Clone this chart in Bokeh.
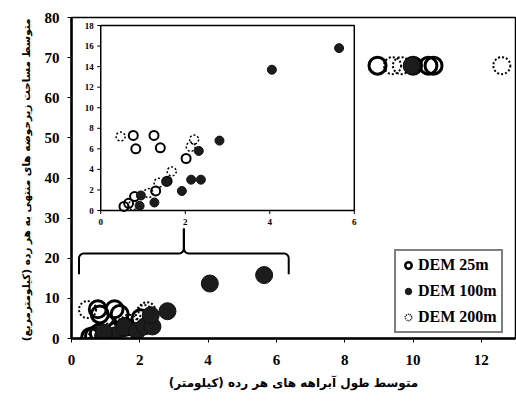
import numpy as np
from bokeh.plotting import figure
from bokeh.models import Range1d, Legend, LegendItem, FixedTicker
from bokeh.embed import file_html
from bokeh.resources import INLINE
from bokeh.core.properties import value

# ---------------- data ----------------
dem25_x = [0.55, 0.66, 0.80, 1.30, 1.57, 2.02, 0.83, 1.41, 0.77, 1.26, 8.96, 10.0, 10.45, 10.6]
dem25_y = [0.4, 0.7, 1.36, 1.9, 2.85, 5.06, 6.0, 6.1, 7.3, 7.3, 68, 68, 68, 68]
dem100_x = [0.92, 1.27, 0.95, 1.55, 1.92, 2.14, 2.37, 2.32, 2.81, 4.05, 5.64, 9.96]
dem100_y = [0.45, 0.78, 1.46, 2.8, 1.9, 3.0, 3.0, 5.8, 6.8, 13.7, 15.8, 68]
dem200_x = [0.76, 1.13, 1.37, 1.68, 2.13, 2.21, 0.47, 9.4, 9.66, 12.6]
dem200_y = [0.5, 1.7, 2.7, 3.8, 6.2, 6.9, 7.2, 68, 68, 68]

series_names = ["DEM 25m", "DEM 100m", "DEM 200m"]

x_ticks = [0, 2, 4, 6, 8, 10, 12]
y_ticks = [0, 10, 20, 30, 40, 50, 60, 70, 80]
inset_x_ticks = [0, 2, 4, 6]
inset_y_ticks = [0, 2, 4, 6, 8, 10, 12, 14, 16, 18]

x_title = "متوسط طول آبراهه های هر رده (کیلومتر)"
y_title = "متوسط مساحت  زیرحوضه های منتهی به هر رده (کیلومترمربع)"

# ---------------- layout constants ----------------
W, H = 516, 401
ML, MR, MT, MB = 71, 1, 17, 63
X_RANGE = (0, 13)
Y_RANGE = (0, 80)
INSET_SRC_X = (0, 6)
INSET_SRC_Y = (0, 18)
INSET_TGT_X = (0.856, 8.28)   # inset box position in main data units
INSET_TGT_Y = (31.9, 78.0)

SERIF = "Liberation Serif"
PERSIAN = "DejaVu Sans"

p = figure(width=W, height=H, output_backend="svg", toolbar_location=None,
           x_range=Range1d(*X_RANGE), y_range=Range1d(*Y_RANGE),
           min_border_left=ML, min_border_right=MR, min_border_top=MT, min_border_bottom=MB,
           background_fill_color="white", border_fill_color="white")
p.grid.visible = False
p.outline_line_color = "black"
p.outline_line_width = 1.5

for ax, ticks in ((p.xaxis, x_ticks), (p.yaxis, y_ticks)):
    ax.ticker = FixedTicker(ticks=ticks)
    ax.axis_line_width = 2.5
    ax.axis_line_color = "black"
    ax.major_tick_in = 0
    ax.major_tick_out = 4
    ax.major_tick_line_width = 1
    ax.minor_tick_line_color = None
    ax.major_label_text_font = SERIF
    ax.major_label_text_font_style = "bold"
    ax.major_label_text_font_size = "15px"
    ax.major_label_text_color = "black"
    ax.axis_label_text_font = PERSIAN
    ax.axis_label_text_font_style = "bold"
    ax.axis_label_text_color = "black"

p.xaxis.axis_label = x_title
p.yaxis.axis_label = y_title
p.xaxis.axis_label_text_font_size = "12px"
p.yaxis.axis_label_text_font_size = "10.5px"
p.xaxis.major_label_standoff = 12
p.xaxis.axis_label_standoff = 8
p.yaxis.major_label_standoff = 8
p.yaxis.axis_label_standoff = 10

# ---------------- main scatter ----------------
MAIN_SIZE = 17
r25 = p.scatter(dem25_x, dem25_y, marker="circle", size=MAIN_SIZE, fill_color=None,
                line_color="black", line_width=3)
r200 = p.scatter(dem200_x, dem200_y, marker="circle", size=MAIN_SIZE, fill_color=None,
                 line_color="black", line_width=2, line_dash="2 2")
r100 = p.scatter(dem100_x, dem100_y, marker="circle", size=MAIN_SIZE, fill_color="#1c1c1c",
                 line_color="#111111", line_width=1)

# ---------------- bracket (marks zoomed region) ----------------
bx0, bx1 = INSET_SRC_X[0] + 0.22, INSET_SRC_X[1] + 0.36
bmid = (bx0 + bx1) / 2
b_end, b_bar, b_tip = 16.0, 21.2, 27.4
rx, ry = 0.15, 1.2

def arc(cx, cy, a0, a1, n=12):
    t = np.linspace(np.radians(a0), np.radians(a1), n)
    return list(cx + rx * np.cos(t)), list(cy + ry * np.sin(t))

lx, ly = [bx0], [b_end]
ax_, ay_ = arc(bx0 + rx, b_bar - ry, 180, 90); lx += ax_; ly += ay_
ax_, ay_ = arc(bmid - rx, b_bar + ry, -90, 0); lx += ax_; ly += ay_
lx.append(bmid); ly.append(b_tip)

rxs, rys = [bmid], [b_tip]
ax_, ay_ = arc(bmid + rx, b_bar + ry, 180, 270); rxs += ax_; rys += ay_
ax_, ay_ = arc(bx1 - rx, b_bar - ry, 90, 0); rxs += ax_; rys += ay_
rxs.append(bx1); rys.append(b_end)

p.multi_line([lx, rxs], [ly, rys], line_color="black", line_width=2)

# ---------------- inset ----------------
sub = p.subplot(x_source=Range1d(*INSET_SRC_X), y_source=Range1d(*INSET_SRC_Y),
                x_target=Range1d(*INSET_TGT_X), y_target=Range1d(*INSET_TGT_Y))

sub.quad(left=[INSET_SRC_X[0]], right=[INSET_SRC_X[1]], bottom=[INSET_SRC_Y[0]],
         top=[INSET_SRC_Y[1]], fill_color="white", line_color="black", line_width=1.5)

def in_inset(xs, ys):
    pts = [(x, y) for x, y in zip(xs, ys)
           if INSET_SRC_X[0] <= x <= INSET_SRC_X[1] and INSET_SRC_Y[0] <= y <= INSET_SRC_Y[1]]
    return [a for a, _ in pts], [b for _, b in pts]

IN_SIZE = 9
x25, y25 = in_inset(dem25_x, dem25_y)
x100, y100 = in_inset(dem100_x, dem100_y)
x200, y200 = in_inset(dem200_x, dem200_y)
sub.scatter(x25, y25, marker="circle", size=IN_SIZE, fill_color=None, line_color="black", line_width=2)
sub.scatter(x200, y200, marker="circle", size=IN_SIZE, fill_color=None, line_color="black",
            line_width=1.5, line_dash="2 2")
sub.scatter(x100, y100, marker="circle", size=IN_SIZE, fill_color="#1c1c1c", line_color="#111111",
            line_width=1)

# inset ticks (outward, ~3.5 px)
inset_px_x = (INSET_TGT_X[1] - INSET_TGT_X[0]) / (X_RANGE[1] - X_RANGE[0]) * (W - ML - MR) / (INSET_SRC_X[1] - INSET_SRC_X[0])
inset_px_y = (INSET_TGT_Y[1] - INSET_TGT_Y[0]) / (Y_RANGE[1] - Y_RANGE[0]) * (H - MT - MB) / (INSET_SRC_Y[1] - INSET_SRC_Y[0])
tlx = 3.5 / inset_px_x
tly = 3.5 / inset_px_y
sub.segment(x0=[INSET_SRC_X[0]] * len(inset_y_ticks), y0=inset_y_ticks,
            x1=[INSET_SRC_X[0] - tlx] * len(inset_y_ticks), y1=inset_y_ticks,
            line_color="black", line_width=1)
sub.segment(x0=inset_x_ticks, y0=[INSET_SRC_Y[0]] * len(inset_x_ticks),
            x1=inset_x_ticks, y1=[INSET_SRC_Y[0] - tly] * len(inset_x_ticks),
            line_color="black", line_width=1)
sub.text(x=[INSET_SRC_X[0]] * len(inset_y_ticks), y=inset_y_ticks,
         text=[str(t) for t in inset_y_ticks], x_offset=-7, text_align="right",
         text_baseline="middle", text_font=value(SERIF), text_font_style="bold",
         text_font_size="9px", text_color="black")
sub.text(x=inset_x_ticks, y=[INSET_SRC_Y[0]] * len(inset_x_ticks),
         text=[str(t) for t in inset_x_ticks], y_offset=8, text_align="center",
         text_baseline="top", text_font=value(SERIF), text_font_style="bold",
         text_font_size="9px", text_color="black")

# ---------------- legend ----------------
nan = [float("nan")]
lr25 = p.scatter(nan, nan, marker="circle", size=8, fill_color=None, line_color="black", line_width=2.5)
lr100 = p.scatter(nan, nan, marker="circle", size=8, fill_color="#1c1c1c", line_color="#111111", line_width=1)
lr200 = p.scatter(nan, nan, marker="circle", size=8, fill_color=None, line_color="black",
                  line_width=1.5, line_dash="1 1")
legend = Legend(items=[LegendItem(label=series_names[0], renderers=[lr25], index=0),
                       LegendItem(label=series_names[1], renderers=[lr100], index=0),
                       LegendItem(label=series_names[2], renderers=[lr200], index=0)],
                location=(323, 5), orientation="vertical",
                label_text_font=SERIF, label_text_font_style="bold",
                label_text_font_size="16px", label_text_color="black",
                glyph_width=16, glyph_height=20, label_height=20, label_standoff=2,
                spacing=6, padding=4, margin=0,
                border_line_color="black", border_line_width=2,
                background_fill_color="white", background_fill_alpha=1)
p.add_layout(legend)

open("out.html", "w").write(file_html(p, INLINE))
